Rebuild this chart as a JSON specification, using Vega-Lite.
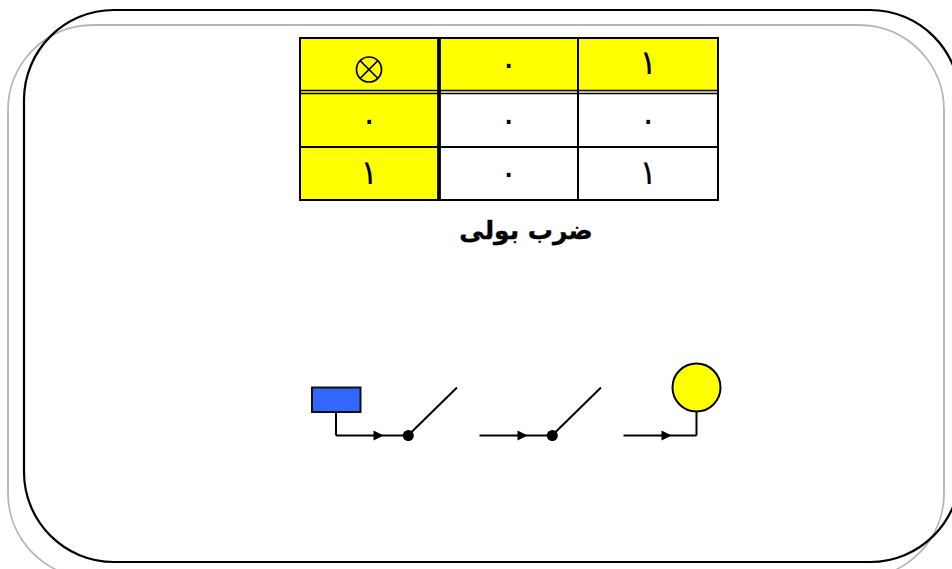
{"$schema":"https://vega.github.io/schema/vega-lite/v6.json","width":952,"height":569,"padding":0,"autosize":{"type":"fit","contains":"padding"},"background":"white","config":{"view":{"stroke":null}},
"datasets":{
"frameGray":[{"x":8,"y":25,"x2":944,"y2":578}],
"frameBlack":[{"x":24,"y":10,"x2":960,"y2":562}],
"cells":[{"x":300,"y":38,"x2":439,"y2":92},{"x":439,"y":38,"x2":578,"y2":92},{"x":578,"y":38,"x2":718,"y2":92},{"x":300,"y":92,"x2":439,"y2":200}],
"thin":[{"x":300,"y":38,"x2":718,"y2":38},{"x":300,"y":200,"x2":718,"y2":200},{"x":300,"y":147,"x2":718,"y2":147},{"x":300,"y":37,"x2":300,"y2":201},{"x":718,"y":37,"x2":718,"y2":201},{"x":578,"y":38,"x2":578,"y2":200}],
"double":[{"x":300,"y":90.5,"x2":718,"y2":90.5},{"x":300,"y":93.5,"x2":718,"y2":93.5}],
"thick":[{"x":439,"y":38,"x2":439,"y2":200}],
"wires":[{"x":336,"y":412,"x2":336,"y2":435.5},{"x":336,"y":435.5,"x2":408,"y2":435.5},{"x":408,"y":435.5,"x2":457,"y2":387.5},{"x":479.5,"y":435.5,"x2":552,"y2":435.5},{"x":552,"y":435.5,"x2":601,"y2":387.5},{"x":623.5,"y":435.5,"x2":696.5,"y2":435.5},{"x":696.5,"y":412,"x2":696.5,"y2":435.5}],
"lamp":[{"x":696.5,"y":387.5}],
"battery":[{"x":312,"y":387.5,"x2":360.5,"y2":412}],
"dots":[{"x":408.3,"y":435.5},{"x":552.3,"y":435.5}],
"arrows":[{"x":378.5,"y":435.5},{"x":522.5,"y":435.5},{"x":666.5,"y":435.5}],
"digits":[{"x":508.5,"y":65,"label":"۰"},{"x":648,"y":64,"label":"۱"},{"x":369,"y":120.5,"label":"۰"},{"x":508.5,"y":120.5,"label":"۰"},{"x":648,"y":120.5,"label":"۰"},{"x":369,"y":174,"label":"۱"},{"x":508.5,"y":174,"label":"۰"},{"x":648,"y":174,"label":"۱"}],
"opRing":[{"x":369,"y":69.5}],
"opCross":[{"x":360,"y":60.5,"x2":378,"y2":78.5},{"x":360,"y":78.5,"x2":378,"y2":60.5}],
"caption":[{"x":526,"y":231,"label":"ضرب بولی"}]
},
"encoding":{"x":{"field":"x","type":"quantitative","axis":null,"scale":{"domain":[0,952],"nice":false,"zero":false}},"y":{"field":"y","type":"quantitative","axis":null,"scale":{"domain":[0,569],"nice":false,"zero":false,"reverse":true}}},
"layer":[
{"data":{"name":"frameGray"},"mark":{"type":"rect","clip":true,"fillOpacity":0,"stroke":"#b5b5b5","strokeWidth":1.8,"cornerRadius":85},"encoding":{"x2":{"field":"x2"},"y2":{"field":"y2"}}},
{"data":{"name":"frameBlack"},"mark":{"type":"rect","clip":true,"fillOpacity":0,"stroke":"#000000","strokeWidth":2.2,"cornerRadius":90},"encoding":{"x2":{"field":"x2"},"y2":{"field":"y2"}}},
{"data":{"name":"cells"},"mark":{"type":"rect","fill":"#ffff00"},"encoding":{"x2":{"field":"x2"},"y2":{"field":"y2"}}},
{"data":{"name":"thin"},"mark":{"type":"rule","stroke":"#000000","strokeWidth":2},"encoding":{"x2":{"field":"x2"},"y2":{"field":"y2"}}},
{"data":{"name":"double"},"mark":{"type":"rule","stroke":"#000000","strokeWidth":1.4},"encoding":{"x2":{"field":"x2"},"y2":{"field":"y2"}}},
{"data":{"name":"thick"},"mark":{"type":"rule","stroke":"#000000","strokeWidth":3.8},"encoding":{"x2":{"field":"x2"},"y2":{"field":"y2"}}},
{"data":{"name":"wires"},"mark":{"type":"rule","stroke":"#000000","strokeWidth":2},"encoding":{"x2":{"field":"x2"},"y2":{"field":"y2"}}},
{"data":{"name":"battery"},"mark":{"type":"rect","fill":"#3366ff","stroke":"#111111","strokeWidth":2},"encoding":{"x2":{"field":"x2"},"y2":{"field":"y2"}}},
{"data":{"name":"lamp"},"mark":{"type":"point","shape":"circle","filled":true,"fill":"#ffff00","stroke":"#000000","strokeWidth":2,"opacity":1,"size":2304}},
{"data":{"name":"dots"},"mark":{"type":"point","shape":"circle","filled":true,"fill":"#000000","opacity":1,"size":121}},
{"data":{"name":"arrows"},"mark":{"type":"point","shape":"M-1,-1L1,0L-1,1Z","filled":true,"fill":"#000000","opacity":1,"size":100}},
{"data":{"name":"opRing"},"mark":{"type":"point","shape":"circle","filled":false,"fillOpacity":0,"stroke":"#000000","strokeWidth":1.7,"opacity":1,"size":625}},
{"data":{"name":"opCross"},"mark":{"type":"rule","stroke":"#000000","strokeWidth":1.7},"encoding":{"x2":{"field":"x2"},"y2":{"field":"y2"}}},
{"data":{"name":"digits"},"mark":{"type":"text","font":"DejaVu Sans","fontSize":34,"align":"center","baseline":"middle","fill":"#000000"},"encoding":{"text":{"field":"label"}}},
{"data":{"name":"caption"},"mark":{"type":"text","font":"DejaVu Sans","fontSize":25,"fontWeight":"bold","align":"center","baseline":"middle","fill":"#000000","stroke":"#000000","strokeWidth":0.4},"encoding":{"text":{"field":"label"}}}
]}
